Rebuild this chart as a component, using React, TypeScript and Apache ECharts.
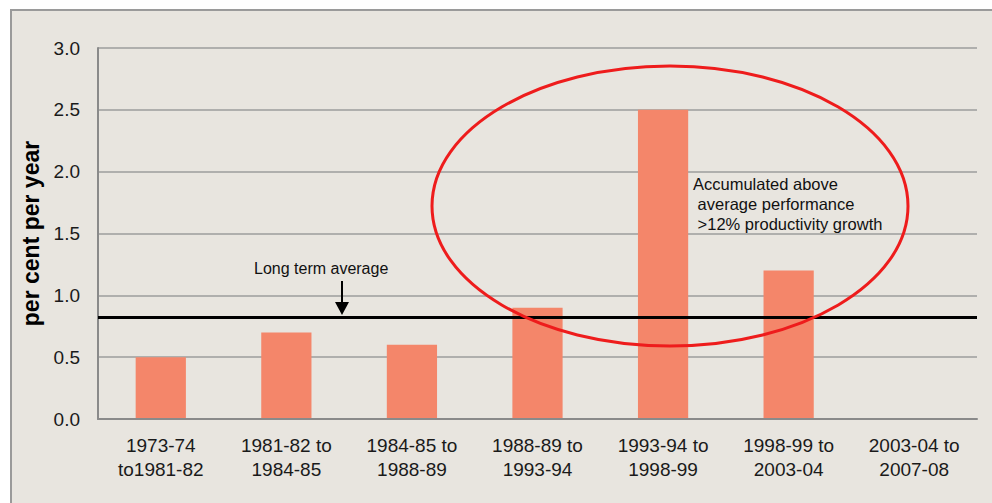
import React, { useEffect, useRef } from "react";
import * as echarts from "echarts";

const categories = [
  "1973-74\nto1981-82",
  "1981-82 to\n1984-85",
  "1984-85 to\n1988-89",
  "1988-89 to\n1993-94",
  "1993-94 to\n1998-99",
  "1998-99 to\n2003-04",
  "2003-04 to\n2007-08",
];
const growth = [0.5, 0.7, 0.6, 0.9, 2.5, 1.2, null];
const longTermAverage = 0.825;
const yTitle = "per cent per year";
const avgLabel = "Long term average";
const noteLines = ["Accumulated above", " average performance", " >12% productivity growth"];

export default function App() {
  const ref = useRef<HTMLDivElement>(null);
  useEffect(() => {
    const chart = echarts.init(ref.current!, null, { renderer: "svg" });
    const font = "Liberation Sans";
    chart.setOption({
      animation: false,
      backgroundColor: "#ffffff",
      textStyle: { fontFamily: font },
      grid: { left: 98, right: 15, top: 48, bottom: 84, containLabel: false },
      xAxis: {
        type: "category",
        data: categories,
        axisLine: { show: true, lineStyle: { color: "#8a8a8a", width: 2 } },
        axisTick: { show: false },
        axisLabel: { color: "#1a1a1a", fontSize: 19, lineHeight: 24, margin: 14, fontFamily: font },
        z: 5,
      },
      yAxis: {
        type: "value",
        min: 0,
        max: 3,
        interval: 0.5,
        name: yTitle,
        nameLocation: "middle",
        nameGap: 55,
        nameTextStyle: { fontSize: 23, fontWeight: "bold", color: "#000", fontFamily: font },
        axisLine: { show: true, lineStyle: { color: "#8a8a8a", width: 2 } },
        axisTick: { show: false },
        axisLabel: {
          color: "#1a1a1a",
          fontSize: 19,
          margin: 18,
          fontFamily: font,
          formatter: (v: number) => v.toFixed(1),
        },
        splitLine: { show: true, lineStyle: { color: "#9c9c9c", width: 1.5 } },
      },
      graphic: [
        {
          type: "rect",
          z: -10,
          silent: true,
          shape: { x: 11, y: 10, width: 1000, height: 520 },
          style: { fill: "#e8e5df", stroke: "#9a9a9a", lineWidth: 2 },
        },
        {
          type: "text",
          x: 254,
          y: 260,
          z: 20,
          style: { text: avgLabel, font: `16px '${font}'`, fill: "#111" },
        },
        {
          type: "line",
          z: 20,
          shape: { x1: 342, y1: 281, x2: 342, y2: 304 },
          style: { stroke: "#000", lineWidth: 2 },
        },
        {
          type: "polygon",
          z: 20,
          shape: { points: [[335, 302], [349, 302], [342, 315]] },
          style: { fill: "#000" },
        },
        {
          type: "text",
          x: 693,
          y: 174,
          z: 20,
          style: {
            text: noteLines.join("\n"),
            font: `16.5px '${font}'`,
            lineHeight: 20,
            fill: "#111",
          },
        },
        {
          type: "ellipse",
          z: 20,
          shape: { cx: 670, cy: 206, rx: 238, ry: 140 },
          style: { fill: "none", stroke: "#ee1c1c", lineWidth: 3 },
        },
      ],
      series: [
        {
          type: "bar",
          data: growth,
          barWidth: "40%",
          itemStyle: { color: "#f4866a" },
          markLine: {
            silent: true,
            symbol: "none",
            label: { show: false },
            lineStyle: { color: "#000", width: 3, type: "solid" },
            data: [{ yAxis: longTermAverage }],
            z: 10,
          },
        },
      ],
    });
    return () => chart.dispose();
  }, []);
  return (
    <div
      ref={ref}
      style={{ position: "fixed", left: 0, top: 0, width: 992, height: 503 }}
    />
  );
}
